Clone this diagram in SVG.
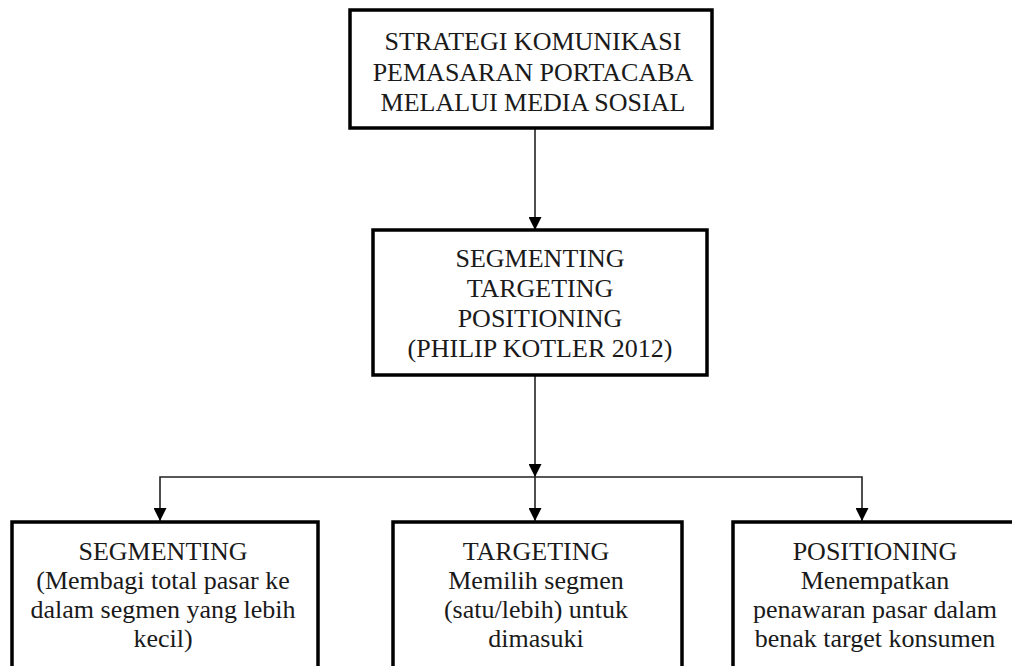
<svg xmlns="http://www.w3.org/2000/svg" width="1012" height="666" viewBox="0 0 1012 666">
<style>
.box{fill:#fff;stroke:#000;stroke-width:3.5}
.t{font-family:"Liberation Serif","Times New Roman",serif;font-size:26px;fill:#1a1a1a;text-anchor:middle}
.c{fill:none;stroke:#222;stroke-width:1.6}
</style>
<defs>
<marker id="ah" markerUnits="userSpaceOnUse" markerWidth="13" markerHeight="13" refX="13" refY="6.5" orient="auto" viewBox="0 0 13 13">
<path d="M0,0 L13,6.5 L0,13 Z" fill="#000"/>
</marker>
</defs>
<rect width="1012" height="666" fill="#fff"/>
<g id="connectors">
<path class="c" d="M535,128 V230" marker-end="url(#ah)"/>
<path class="c" d="M535,375 V477 V521" marker-mid="url(#ah)" marker-end="url(#ah)"/>
<path class="c" d="M535,477 H160 V521" marker-end="url(#ah)"/>
<path class="c" d="M535,477 H862 V521" marker-end="url(#ah)"/>
</g>
<g id="node-strategi">
<rect class="box" x="350" y="10" width="362" height="118"/>
<text class="t" x="533" y="50">STRATEGI KOMUNIKASI</text>
<text class="t" x="533" y="81">PEMASARAN PORTACABA</text>
<text class="t" x="533" y="111">MELALUI MEDIA SOSIAL</text>
</g>
<g id="node-stp">
<rect class="box" x="373" y="230" width="334" height="145"/>
<text class="t" x="540" y="267">SEGMENTING</text>
<text class="t" x="540" y="297">TARGETING</text>
<text class="t" x="540" y="327">POSITIONING</text>
<text class="t" x="540" y="357">(PHILIP KOTLER 2012)</text>
</g>
<g id="node-segmenting">
<rect class="box" x="12" y="522" width="306" height="170"/>
<text class="t" x="163" y="560">SEGMENTING</text>
<text class="t" x="163" y="589">(Membagi total pasar ke</text>
<text class="t" x="163" y="618">dalam segmen yang lebih</text>
<text class="t" x="163" y="647">kecil)</text>
</g>
<g id="node-targeting">
<rect class="box" x="393" y="522" width="289" height="170"/>
<text class="t" x="536" y="560">TARGETING</text>
<text class="t" x="536" y="589">Memilih segmen</text>
<text class="t" x="536" y="618">(satu/lebih) untuk</text>
<text class="t" x="536" y="647">dimasuki</text>
</g>
<g id="node-positioning">
<rect class="box" x="733" y="522" width="300" height="170"/>
<text class="t" x="875" y="560">POSITIONING</text>
<text class="t" x="875" y="589">Menempatkan</text>
<text class="t" x="875" y="618">penawaran pasar dalam</text>
<text class="t" x="875" y="647">benak target konsumen</text>
</g>
</svg>
